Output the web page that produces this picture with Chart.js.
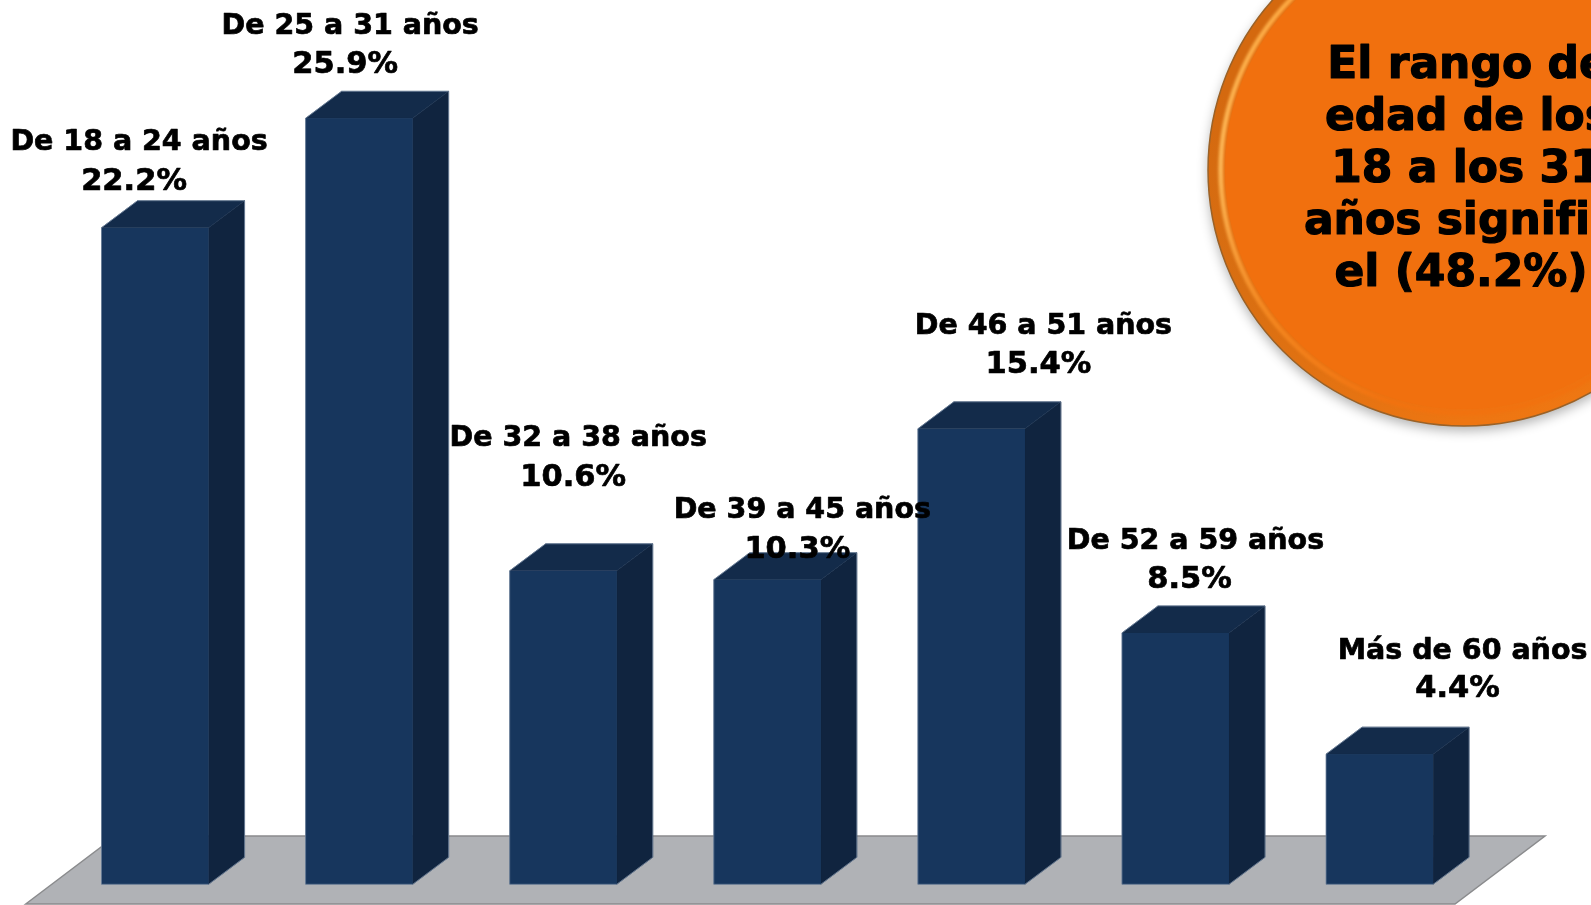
<!DOCTYPE html>
<html><head><meta charset="utf-8">
<style>html,body{margin:0;padding:0;background:#fff;overflow:hidden}#w{position:relative;width:1591px;height:905px}</style>
<script src="https://cdn.jsdelivr.net/npm/chart.js@4"></script>
</head><body><div id="w"><canvas id="c" width="1591" height="905"></canvas></div>
<script>
const categories = ["De 18 a 24 años","De 25 a 31 años","De 32 a 38 años","De 39 a 45 años","De 46 a 51 años","De 52 a 59 años","Más de 60 años"];
const values = [22.2,25.9,10.6,10.3,15.4,8.5,4.4];
const calloutLines = ["El rango de","edad de los","18 a los 31","años signific","el (48.2%)"];

const FONT = '"DejaVu Sans"';
const COL = {front:'#17365D',side:'#10243F',top:'#132B4A',edge:'rgba(110,130,155,0.8)',floor:'#B0B2B6',floorEdge:'#8a8b8d'};
const DX = 36, DY = 27;
// hand-placed label offsets relative to each bar's centre and top: [name dx, name dy, value dx, value dy]
const labelOffsets = [[-16,-85,-21,-46],[-9,-92,-14,-53],[15,-132,10,-93],[35,-69,30,-30],[72,-102,67,-64],[20,-91,14,-53],[83,-103,78,-65]];
// callout lines are not quite centred in the reference: small per-line nudges
const calloutNudge = [4,4,2,-4,-3];

function boldText(c,s,x,y,w){c.fillText(s,x,y);c.lineWidth=w;c.strokeStyle='#000';c.lineJoin='round';c.strokeText(s,x,y);}

const scene = {
  id:'scene',
  beforeDatasetsDraw(chart){
    const c = chart.ctx, b = chart.scales.y.getPixelForValue(0);
    c.save();
    c.beginPath();c.moveTo(25.7,b+19.7);c.lineTo(115.7,b-48.3);c.lineTo(1545,b-48.3);c.lineTo(1455,b+19.7);c.closePath();
    c.fillStyle=COL.floor;c.fill();c.lineWidth=1.5;c.strokeStyle=COL.floorEdge;c.stroke();
    c.restore();
  },
  afterDatasetsDraw(chart){
    const c = chart.ctx, meta = chart.getDatasetMeta(0);
    c.save();
    meta.data.forEach(el=>{
      const p = el.getProps(['x','y','base','width'],true);
      const l=p.x-p.width/2,r=p.x+p.width/2,t=p.y,bt=p.base;
      c.lineWidth=0.5;
      c.beginPath();c.moveTo(r,t);c.lineTo(r+DX,t-DY);c.lineTo(r+DX,bt-DY);c.lineTo(r,bt);c.closePath();
      c.fillStyle=COL.side;c.strokeStyle=COL.side;c.fill();c.stroke();
      c.beginPath();c.moveTo(l,t);c.lineTo(l+DX,t-DY);c.lineTo(r+DX,t-DY);c.lineTo(r,t);c.closePath();
      c.fillStyle=COL.top;c.strokeStyle=COL.top;c.fill();c.stroke();
      c.fillStyle=COL.front;c.fillRect(l,t,p.width,bt-t);
      c.beginPath();c.moveTo(l,t);c.lineTo(l+DX,t-DY);c.lineTo(r+DX,t-DY);c.lineTo(r+DX,bt-DY);c.lineTo(r,bt);c.lineTo(l,bt);c.closePath();
      c.lineWidth=1;c.strokeStyle=COL.edge;c.stroke();
    });
    // callout disc
    const cx=1464,cy=170,R=256,r=242;
    c.save();
    c.shadowColor='rgba(0,0,0,0.3)';c.shadowBlur=12;c.shadowOffsetY=5;
    c.beginPath();c.arc(cx,cy,R,0,Math.PI*2);c.fillStyle='#E5720F';c.fill();
    c.restore();
    const gr=c.createConicGradient(0,cx,cy);
    gr.addColorStop(0,'#F07812');gr.addColorStop(0.25,'#EE7612');gr.addColorStop(0.42,'#D96F12');
    gr.addColorStop(0.55,'#D4690F');gr.addColorStop(0.7,'#D4690F');gr.addColorStop(1,'#F07812');
    c.beginPath();c.arc(cx,cy,R,0,Math.PI*2);c.fillStyle=gr;c.fill();
    c.lineWidth=1.5;c.strokeStyle='#9A6228';c.stroke();
    const g=c.createConicGradient(0,cx,cy);
    g.addColorStop(0,'#F1700E');g.addColorStop(0.3,'#F1720F');g.addColorStop(0.4,'#F58A22');
    g.addColorStop(0.5,'#FFC060');g.addColorStop(0.62,'#FFB048');g.addColorStop(0.72,'#F27A14');g.addColorStop(1,'#F1700E');
    c.beginPath();c.arc(cx,cy,r+1,0,Math.PI*2);c.lineWidth=5;c.strokeStyle=g;
    c.filter='blur(1.5px)';c.stroke();c.filter='none';
    c.save();
    c.shadowColor='#F1700E';c.shadowBlur=6;
    c.beginPath();c.arc(cx,cy,r-3,0,Math.PI*2);c.fillStyle='#F1700E';c.fill();
    c.restore();
    c.fillStyle='#000';c.textAlign='center';c.textBaseline='middle';
    c.textRendering='optimizeSpeed';
    c.font='bold 44px '+FONT;
    calloutLines.forEach((s,i)=>boldText(c,s,cx+calloutNudge[i],67+i*52,1.2));
    // bar labels
    meta.data.forEach((el,i)=>{
      const o=labelOffsets[i];
      c.font='bold 28.5px '+FONT;
      boldText(c,categories[i],el.x+o[0],el.y+o[1],0.7);
      c.font='bold 30.5px '+FONT;
      boldText(c,values[i].toFixed(1)+'%',el.x+o[2],el.y+o[3],0.7);
    });
    c.restore();
  }
};
new Chart(document.getElementById('c'),{
  type:'bar',
  data:{labels:categories,datasets:[{data:values,backgroundColor:COL.front,barPercentage:0.5245,categoryPercentage:1}]},
  plugins:[scene],
  options:{
    responsive:false,animation:false,
    layout:{padding:{left:53,right:109.4,top:0,bottom:20.7}},
    plugins:{legend:{display:false},tooltip:{enabled:false},title:{display:false}},
    scales:{
      x:{display:false,grid:{display:false}},
      y:{display:false,min:0,max:29.9,grid:{display:false}}
    }
  }
});
</script></body></html>
